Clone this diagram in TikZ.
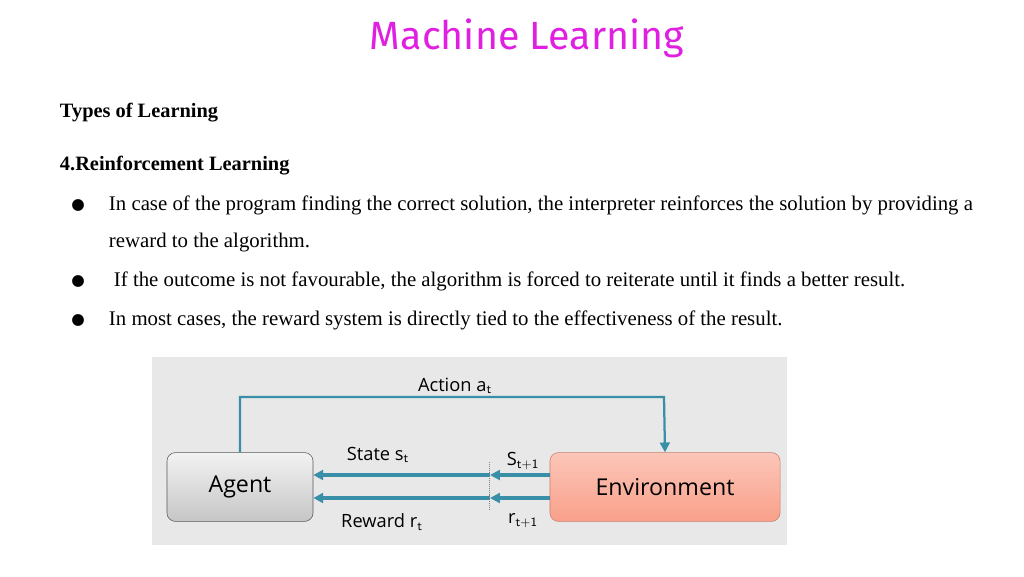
\documentclass[tikz,border=0pt]{standalone}
\usepackage{fontspec}
\setmainfont{Liberation Serif}
\newfontfamily\diagfont{Open Sans}
\newfontfamily\titlefont{Fira Sans}
\newfontfamily\symfont{DejaVu Sans}
\usepackage{xcolor}
\usetikzlibrary{arrows.meta,positioning,calc}
\definecolor{flowblue}{HTML}{3A8FA8}
\definecolor{envred}{HTML}{F9A08A}
\definecolor{titlepink}{HTML}{E020E0}
\tikzset{
  flow/.style={flowblue, line width=2.2pt, -{Triangle[length=7pt,width=7pt]}},
  para/.style={anchor=west, font=\fontsize{14.8}{17}\selectfont},
  head/.style={anchor=west, font=\fontsize{14.5}{17}\selectfont\bfseries},
  lbl/.style={font=\diagfont\fontsize{13}{15}\selectfont, inner sep=1pt}
}
\begin{document}
\begin{tikzpicture}[x=0.025cm, y=-0.025cm]
  \useasboundingbox (0,0) rectangle (1024,577);
  % Title and text
  \node[font=\titlefont\fontsize{28}{32}\selectfont, text=titlepink] (title) at (527,38) {Machine Learning};
  \node[head] (types) at (55,113) {Types of Learning};
  \node[head] (rl) at (55,166) {4.Reinforcement Learning};
  \foreach \yy in {205,281,320}
    \node[font=\symfont\fontsize{11}{12}\selectfont] at (78,\yy) {●};
  \node[para] (b1) at (104,205) {In case of the program finding the correct solution, the interpreter reinforces the solution by providing a};
  \node[para] (b1b) at (104,243) {reward to the algorithm.};
  \node[para] (b2) at (109,281) {If the outcome is not favourable, the algorithm is forced to reiterate until it finds a better result.};
  \node[para] (b3) at (104,320) {In most cases, the reward system is directly tied to the effectiveness of the result.};

  % Diagram background
  \fill[gray!18] (152,357) rectangle (787,545);

  % Boxes
  \node[draw=gray!70!black, rounded corners=6pt, top color=gray!10, bottom color=gray!45,
        minimum width=3.65cm, minimum height=1.72cm, font=\diagfont\fontsize{16.5}{18}\selectfont] (agent) at (240,487) {Agent};
  \node[draw=envred!80!black, rounded corners=6pt, top color=envred!60, bottom color=envred,
        minimum width=5.75cm, minimum height=1.72cm, font=\diagfont\fontsize{16.5}{18}\selectfont] (env) at (665,487) {Environment};

  % Action loop
  \coordinate (acl) at (240,397);
  \coordinate (acr) at (664,397);
  \draw[flow, line width=1.6pt] (agent.north) -- (acl) -- (acr) -- (env.north);
  \node[lbl] (action) at (455,386) {Action a$_\mathsf{t}$};

  % State and reward
  \coordinate (smid) at (490,475);
  \coordinate (rmid) at (490,498);
  \draw[flow] (env.west |- smid) -- (smid);
  \draw[flow] (smid) -- (agent.east |- smid);
  \draw[flow] (env.west |- rmid) -- (rmid);
  \draw[flow] (rmid) -- (agent.east |- rmid);
  \draw[gray, densely dotted] (489,462) -- (489,511);
  \node[lbl] (state) at (378,455) {State s$_\mathsf{t}$};
  \node[lbl] (reward) at (382,522) {Reward r$_\mathsf{t}$};
  \node[lbl] (snext) at (523,461) {S$_\mathsf{t+1}$};
  \node[lbl] (rnext) at (523,521) {r$_\mathsf{t+1}$};
\end{tikzpicture}
\end{document}
